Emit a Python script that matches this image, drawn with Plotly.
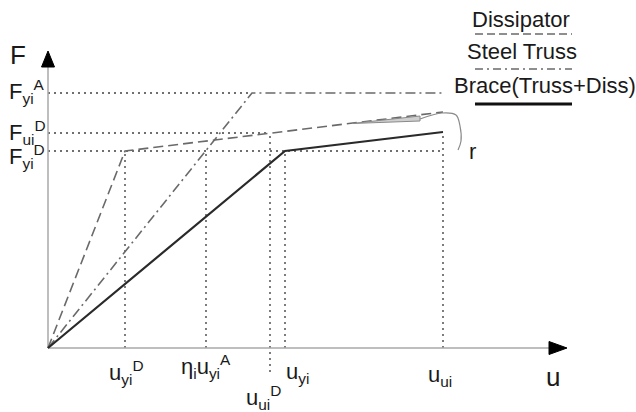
import plotly.graph_objects as go

# ---- schematic values (u, F in drawing units) ----
u_yiD = 77       # dissipator yield displacement
eta_u_yiA = 158  # eta_i * u_yi^A
u_uiD = 222      # dissipator ultimate displacement
u_yi = 237       # brace yield displacement
u_ui = 395       # brace ultimate displacement
u_yA = 204       # steel truss yield displacement

F_yiA = 255
F_uiD = 215
F_yiD = 197
F_diss_end = 236
F_brace_end = 216

diss_u = [0, u_yiD, u_ui]
diss_F = [0, F_yiD, F_diss_end]
truss_u = [0, u_yA, u_ui]
truss_F = [0, F_yiA, F_yiA]
brace_u = [0, u_yi, u_ui]
brace_F = [0, F_yiD, F_brace_end]

# r-arrow (stiffness ratio indicator)
r_arrow_u = [304, 372, 372, 304]
r_arrow_F = [224.5, 232, 227, 224.5]
r_curve_u = [372, 394, 408, 412, 413, 410]
r_curve_F = [229, 235, 233, 222, 207, 198]

axis_u_max = 519
axis_F_max = 297

FONT = "Liberation Sans, Arial, sans-serif"
fig = go.Figure()

def line(x, y, color, width, dash="solid", shape="linear"):
    fig.add_trace(go.Scatter(x=x, y=y, mode="lines", hoverinfo="skip",
                             line=dict(color=color, width=width, dash=dash, shape=shape)))

dot = "2px,4px"
dotc = "#6f6f6f"
# horizontal reference lines
line([0, u_yA], [F_yiA, F_yiA], dotc, 1.8, dot)
line([0, u_uiD], [F_uiD, F_uiD], dotc, 1.8, dot)
line([0, u_ui], [F_yiD, F_yiD], dotc, 1.8, dot)
# vertical reference lines
line([u_yiD, u_yiD], [0, F_yiD], dotc, 1.8, dot)
line([eta_u_yiA, eta_u_yiA], [0, F_yiD], dotc, 1.8, dot)
line([u_uiD, u_uiD], [-24, F_uiD], dotc, 1.8, dot)
line([u_yi, u_yi], [0, F_yiD], dotc, 1.8, dot)
line([u_ui, u_ui], [0, F_brace_end], dotc, 1.8, dot)

# axes
line([0, axis_u_max - 18], [0, 0], "#a8a8a8", 1.5)
line([0, 0], [0, axis_F_max - 16], "#a8a8a8", 1.5)
fig.add_trace(go.Scatter(x=[0, -6.5, 6.5, 0], y=[axis_F_max, axis_F_max - 16, axis_F_max - 16, axis_F_max],
                         mode="lines", fill="toself", fillcolor="black", line=dict(color="black", width=1),
                         hoverinfo="skip"))
fig.add_trace(go.Scatter(x=[axis_u_max, axis_u_max - 18, axis_u_max - 18, axis_u_max], y=[0, 6.5, -6.5, 0],
                         mode="lines", fill="toself", fillcolor="black", line=dict(color="black", width=1),
                         hoverinfo="skip"))

# curves
line(diss_u, diss_F, "#6a6a6a", 1.6, "10px,5px")
line(truss_u, truss_F, "#6a6a6a", 1.6, "10px,4px,2px,4px")
line(brace_u, brace_F, "#2a2a2a", 2.2)

# r indicator
fig.add_trace(go.Scatter(x=r_arrow_u, y=r_arrow_F, mode="lines", fill="toself", fillcolor="#cfcfcf",
                         line=dict(color="#8a8a8a", width=1), hoverinfo="skip"))
line(r_curve_u, r_curve_F, "#8a8a8a", 1.2, shape="spline")

def ann(x, y, text, size=22, xanchor="center", yanchor="middle"):
    fig.add_annotation(x=x, y=y, text=text, showarrow=False, xanchor=xanchor, yanchor=yanchor,
                       font=dict(family=FONT, size=size, color="#1a1a1a"))

# axis titles
ann(-30, 293, "F", 26)
ann(505, -29, "u", 26)
ann(424, 197, "r", 22)

# y labels
ann(-21, 257, "F<sub>yi</sub><sup>A</sup>")
ann(-21, 216, "F<sub>ui</sub><sup>D</sup>")
ann(-21, 192, "F<sub>yi</sub><sup>D</sup>")

# x labels
ann(78, -24, "u<sub>yi</sub><sup>D</sup>")
ann(158, -18, "η<sub>i</sub>u<sub>yi</sub><sup>A</sup>")
ann(215, -49, "u<sub>ui</sub><sup>D</sup>")
ann(249, -25, "u<sub>yi</sub>")
ann(392, -28, "u<sub>ui</sub>")

# legend
ann(473, 329, "Dissipator")
ann(474, 297, "Steel Truss")
ann(497, 263, "Brace(Truss+Diss)")
fig.add_shape(type="line", x0=427, x1=524, y0=314, y1=314, line=dict(color="#6a6a6a", width=1.6, dash="8px,4px"))
fig.add_shape(type="line", x0=427, x1=524, y0=279, y1=279, line=dict(color="#6a6a6a", width=1.6, dash="8px,4px,2px,4px"))
fig.add_shape(type="line", x0=427, x1=524, y0=244, y1=244, line=dict(color="#111111", width=3))

fig.update_layout(
    width=636, height=412, margin=dict(l=0, r=0, t=0, b=0),
    paper_bgcolor="white", plot_bgcolor="white", showlegend=False,
    xaxis=dict(range=[-48, 588], visible=False, fixedrange=True),
    yaxis=dict(range=[-64, 348], visible=False, fixedrange=True),
)
fig.write_html("out.html", config={"displayModeBar": False},
               post_script="document.body.style.margin='0';document.body.style.overflow='hidden';")
